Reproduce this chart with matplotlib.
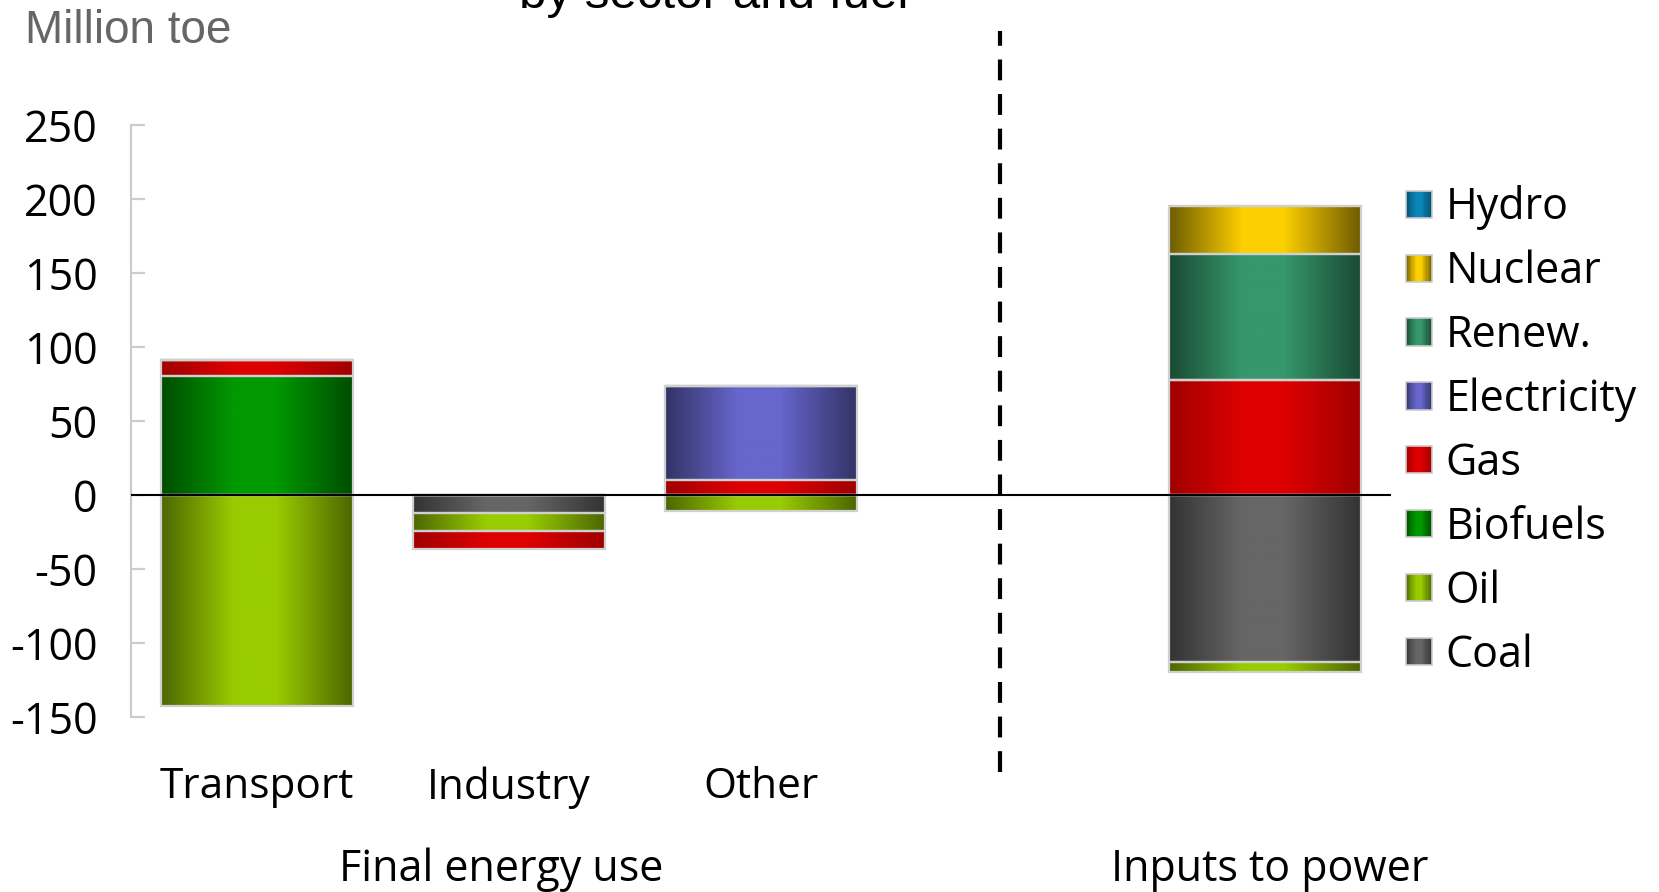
import numpy as np
import matplotlib
matplotlib.use("Agg")
import matplotlib.pyplot as plt
from matplotlib.colors import LinearSegmentedColormap
from matplotlib.patches import Rectangle, Patch
from matplotlib.legend_handler import HandlerBase

# ---------------- data ----------------
categories = ["Transport", "Industry", "Other", "Inputs to power"]
cat_labels = ["Transport", "Industry", "Other", ""]
group_labels = ["Final energy use", "Inputs to power"]
series = ["Coal", "Oil", "Biofuels", "Gas", "Electricity", "Renew.", "Nuclear", "Hydro"]
coal = [0, -12, 0, -112.5]
oil = [-142, -12, -10.5, -7]
biofuels = [80.5, 0, 0, 0]
gas = [10.7, -12.5, 10.5, 78]
electricity = [0, 0, 63.5, 0]
renew = [0, 0, 0, 85]
nuclear = [0, 0, 0, 32]
hydro = [0, 0, 0, 0]
values = [coal, oil, biofuels, gas, electricity, renew, nuclear, hydro]
yticks = [-150, -100, -50, 0, 50, 100, 150, 200, 250]

grad_colors = {
    "Hydro": ("#04506e", "#0a86b8"),
    "Nuclear": ("#6e5c00", "#fccf00"),
    "Renew.": ("#1a4a33", "#35976b"),
    "Electricity": ("#333366", "#6666cc"),
    "Gas": ("#a00000", "#dd0000"),
    "Biofuels": ("#004c00", "#009900"),
    "Oil": ("#4c6600", "#99cc00"),
    "Coal": ("#333333", "#666666"),
}
cmaps = {}
for k, (e, c) in grad_colors.items():
    cmaps[k] = LinearSegmentedColormap.from_list(
        k, [(0, e), (0.38, c), (0.6, c), (1, e)])

FONT = ["Open Sans", "DejaVu Sans"]
NARROW = ["Liberation Sans", "DejaVu Sans"]
plt.rcParams["font.family"] = FONT

W, H = 1659, 892
fig = plt.figure(figsize=(W / 100, H / 100), dpi=100)
ax = fig.add_axes([131 / W, 1 - 717.4 / H, (1391 - 131) / W, (717.4 - 124.8) / H])

x = np.array([0, 1, 2, 4], dtype=float)
width = 0.76
pos_base = np.zeros(len(x))
neg_base = np.zeros(len(x))
grad = np.linspace(0, 1, 256).reshape(1, -1)
edge_col = "#d0d0d0"

for name, vals in zip(series, values):
    vals = np.array(vals, dtype=float)
    bottoms = np.where(vals >= 0, pos_base, neg_base)
    bars = ax.bar(x, vals, width, bottom=bottoms, facecolor="none",
                  edgecolor=edge_col, linewidth=1.6, zorder=4)
    for rect, v in zip(bars, vals):
        if v == 0:
            continue
        x0 = rect.get_x()
        x1 = x0 + rect.get_width()
        y0 = rect.get_y()
        y1 = y0 + rect.get_height()
        im = ax.imshow(grad, extent=[x0, x1, min(y0, y1), max(y0, y1)],
                       aspect="auto", cmap=cmaps[name], zorder=3,
                       interpolation="bilinear")
        im.set_clip_path(rect)
    pos_base = pos_base + np.where(vals > 0, vals, 0)
    neg_base = neg_base + np.where(vals < 0, vals, 0)

ax.set_xlim(-0.5, 4.5)
ax.set_ylim(-150, 250)
ax.axhline(0, color="black", lw=1.5, zorder=5)

# dashed separator
ax.plot([2.95, 2.95], [-187, 313], color="black", lw=3,
        dashes=(5, 3.3), clip_on=False, zorder=5)

# axes styling
for s in ["top", "right", "bottom"]:
    ax.spines[s].set_visible(False)
ax.spines["left"].set_color("#cccccc")
ax.spines["left"].set_linewidth(1.6)
ax.set_yticks(yticks)
ax.set_yticklabels([str(t) for t in yticks])
ax.tick_params(axis="y", direction="in", length=10, width=1.6,
               color="#cccccc", pad=24, labelsize=31)
ax.set_xticks(x[:3])
ax.set_xticklabels(cat_labels[:3])
ax.tick_params(axis="x", length=0, pad=35, labelsize=30.5)

# group labels
tr = ax.get_xaxis_transform()
ax.text(0.97, -0.2575, group_labels[0], transform=tr, ha="center",
        va="center", fontsize=31)
ax.text(4.02, -0.2575, group_labels[1], transform=tr, ha="center",
        va="center", fontsize=31)

# unit label and title
fig.text(24 * 1.058 / W, 1 - 29 * 1.058 / H, "Million toe", family=NARROW,
         fontsize=33, color="#666666", ha="left", va="center")
fig.text(714 / W, 1 - 8 / H, "by sector and fuel", family=NARROW,
         fontsize=35.5, color="black", ha="center", va="baseline")


# legend with gradient squares
class GradHandler(HandlerBase):
    def create_artists(self, legend, orig_handle, xdescent, ydescent,
                       width, height, fontsize, trans):
        cm = cmaps[orig_handle.get_label()]
        n = 24
        arts = []
        for i in range(n):
            r = Rectangle((-xdescent + i * width / n, -ydescent), width / n,
                          height, facecolor=cm((i + 0.5) / n), edgecolor="none",
                          transform=trans)
            arts.append(r)
        b = Rectangle((-xdescent, -ydescent), width, height, facecolor="none",
                      edgecolor="#cccccc", lw=1.2, transform=trans)
        arts.append(b)
        return arts


leg_order = ["Hydro", "Nuclear", "Renew.", "Electricity", "Gas", "Biofuels",
             "Oil", "Coal"]
handles = [Patch(label=n) for n in leg_order]
fig.legend(handles=handles, labels=leg_order,
           handler_map={Patch: GradHandler()},
           loc="upper left", bbox_to_anchor=(1406 / W, 1 - 185.5 / H),
           frameon=False, fontsize=31, handlelength=0.6, handleheight=0.6,
           handletextpad=0.32, labelspacing=0.45, borderpad=0, borderaxespad=0)

fig.savefig("out.png", dpi=100)
